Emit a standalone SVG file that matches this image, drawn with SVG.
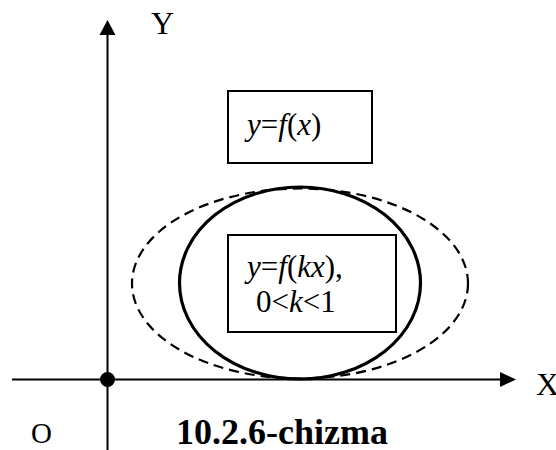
<svg xmlns="http://www.w3.org/2000/svg" width="556" height="450" viewBox="0 0 556 450">
<style>
text{font-family:"Liberation Serif",serif;fill:#000}
.box{fill:#fff;stroke:#000;stroke-width:2}
.ax{stroke:#000;stroke-width:2;fill:none}
</style>
<rect width="556" height="450" fill="#fff"/>
<g id="curves">
<ellipse cx="300" cy="283.5" rx="168" ry="95" fill="none" stroke="#000" stroke-width="2.2" stroke-dasharray="10,6"/>
<ellipse cx="300" cy="283" rx="120.5" ry="96" fill="none" stroke="#000" stroke-width="3.2"/>
</g>
<g id="axes">
<line class="ax" x1="12" y1="379.5" x2="502" y2="379.5"/>
<polygon points="500,372 516,379.5 500,387" fill="#000"/>
<line class="ax" x1="107.5" y1="450" x2="107.5" y2="34"/>
<polygon points="99.5,35 107.5,20 115.5,35" fill="#000"/>
<circle cx="107.5" cy="379.5" r="7.5" fill="#000"/>
</g>
<g id="box1">
<rect class="box" x="228" y="91" width="144" height="72"/>
<text x="247" y="135" font-family="Liberation Serif, serif" font-size="31"><tspan font-style="italic">y</tspan>=<tspan font-style="italic">f</tspan>(<tspan font-style="italic">x</tspan>)</text>
</g>
<g id="box2">
<rect class="box" x="228" y="235" width="168" height="97"/>
<text x="247" y="277" font-family="Liberation Serif, serif" font-size="31"><tspan font-style="italic">y</tspan>=<tspan font-style="italic">f</tspan>(<tspan font-style="italic">kx</tspan>),</text>
<text x="256" y="312" font-family="Liberation Serif, serif" font-size="31">0&lt;<tspan font-style="italic">k</tspan>&lt;1</text>
</g>
<g id="labels">
<text x="151" y="34" font-family="Liberation Serif, serif" font-size="32">Y</text>
<text x="536" y="395" font-family="Liberation Serif, serif" font-size="32">X</text>
<text x="31" y="443" font-family="Liberation Serif, serif" font-size="29">O</text>
<text x="176" y="444" font-family="Liberation Serif, serif" font-size="36" font-weight="bold">10.2.6-chizma</text>
</g>
</svg>
